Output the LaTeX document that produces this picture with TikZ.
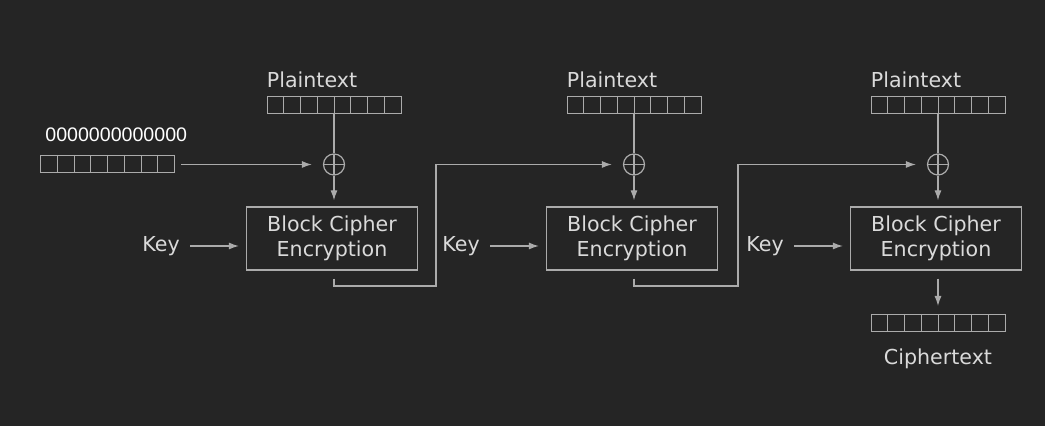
\documentclass[tikz,border=0pt]{standalone}
\usepackage{fontspec}
\setmainfont{DejaVu Sans}
\newfontfamily\ivfont{Liberation Sans}
\usetikzlibrary{arrows.meta}
\usetikzlibrary{calc}
\usetikzlibrary{positioning}
\definecolor{bgcol}{HTML}{252525}
\definecolor{linecol}{HTML}{ABABAB}
\definecolor{txtcol}{HTML}{DADADA}
\tikzset{
    wire/.style = {draw=linecol,line width=0.6pt},
    flow/.style = {wire,-{Latex[length=5pt,width=3.5pt]}},
    lbl/.style = {text=txtcol,inner sep=0},
    cipher/.style = {draw=linecol,line width=0.6pt,text=txtcol,align=center,minimum width=85.5pt,minimum height=31.5pt,inner sep=0},
    reg/.style = {draw=linecol,line width=0.5pt,minimum width=67pt,minimum height=8.5pt,inner sep=0,
        path picture={\foreach \k in {1,...,7}
            \draw[linecol,line width=0.5pt]
                ($(path picture bounding box.south west)!\k/8!(path picture bounding box.south east)$)
                -- ($(path picture bounding box.north west)!\k/8!(path picture bounding box.north east)$);}},
    xor/.style = {circle,draw=linecol,line width=0.6pt,minimum size=10.5pt,inner sep=0,
        path picture={\draw[linecol,line width=0.6pt]
            (path picture bounding box.north) -- (path picture bounding box.south)
            (path picture bounding box.west) -- (path picture bounding box.east);}}
}

\begin{document}
\begin{tikzpicture}[x=0.5pt,y=-0.5pt,font=\fontsize{10.3}{12.4}\selectfont]
        \fill[bgcol] (0,0) rectangle (1045,426);
        % Stages
        \foreach \n/\x in {1/334,2/634,3/938} {
            \node[reg] (p\n) at (\x,105.5) {};
            \node[lbl,above right=4pt and 0pt of p\n.north west] (pl\n) {Plaintext};
            \node[xor] (x\n) at (\x,164.5) {};
            \node[cipher] (e\n) at (\x-2,238.5) {Block Cipher\\Encryption};
            \node[lbl] (k\n) at (\x-173,246) {Key};
            \draw[wire] (p\n) -- (x\n);
            \draw[flow,shorten >=3pt] (x\n) -- (e\n.north -| x\n);
            \draw[flow,shorten <=5pt,shorten >=3.5pt] (k\n.east) -- (k\n.east -| e\n.west);
        }
        % Initialisation vector
        \node[reg] (iv) at (107.5,164.5) {};
        \node[lbl,text=white,font=\ivfont\fontsize{9.8}{12}\selectfont,
            above right=6.5pt and 2.5pt of iv.north west] (ivl) {0000000000000};
        \draw[flow,shorten <=3pt,shorten >=5.5pt] (iv.east) -- (iv.east -| x1.west);
        % Chaining
        \coordinate (c1) at (436,286);
        \coordinate (c2) at (738,286);
        \draw[flow,shorten >=5.5pt] ([yshift=-4pt]e1.south -| x1) |- (c1) |- (x2);
        \draw[flow,shorten >=5.5pt] ([yshift=-4pt]e2.south -| x2) |- (c2) |- (x3);
        % Output
        \node[reg] (ct) at (938,323) {};
        \node[lbl,below=8pt of ct] (ctl) {Ciphertext};
        \draw[flow,shorten >=4pt] ([yshift=-4pt]e3.south -| x3) -- (ct);
\end{tikzpicture}
\end{document}
